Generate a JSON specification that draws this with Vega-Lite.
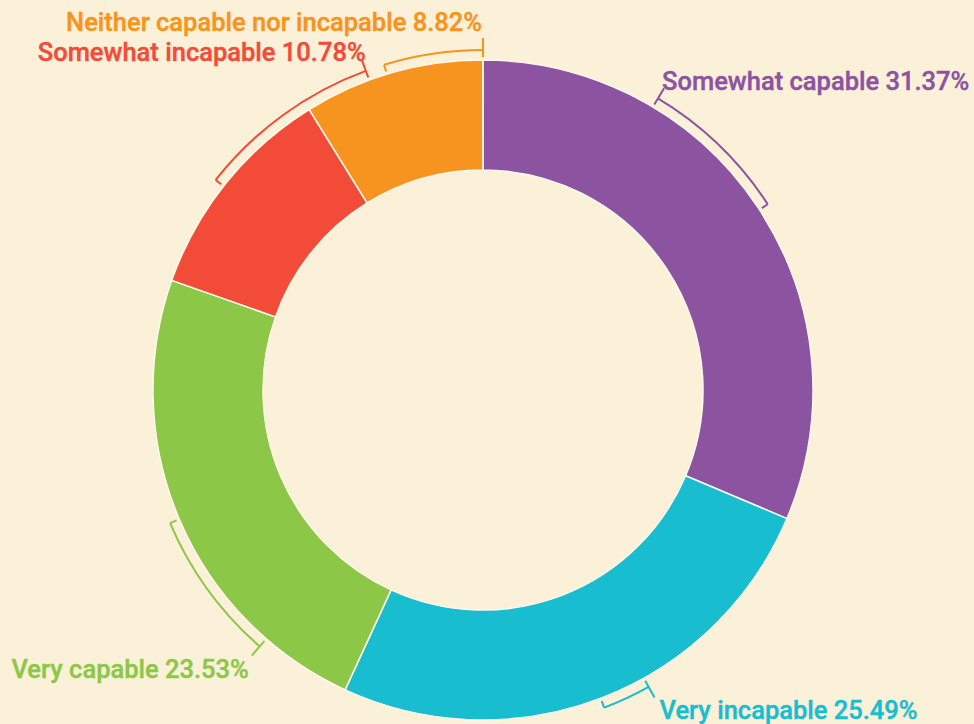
{
  "$schema": "https://vega.github.io/schema/vega-lite/v6.json",
  "width": 966,
  "height": 670,
  "autosize": "none",
  "padding": {"left": 0, "top": 55, "right": 8, "bottom": 0},
  "background": "#FBF0D8",
  "config": {"view": {"stroke": null}},
  "datasets": {
    "slices": [
      {"label": "Somewhat capable", "percent": 31.37, "rank": 1},
      {"label": "Very incapable", "percent": 25.49, "rank": 2},
      {"label": "Very capable", "percent": 23.53, "rank": 3},
      {"label": "Somewhat incapable", "percent": 10.78, "rank": 4},
      {"label": "Neither capable nor incapable", "percent": 8.82, "rank": 5}
    ],
    "brackets": [
      {"label": "Somewhat capable", "caption": "Somewhat capable 31.37%", "start": 8.6, "end": 15.8, "leader": 8.6},
      {"label": "Very incapable", "caption": "Very incapable 25.49%", "start": 41.9, "end": 44.2, "leader": 41.9},
      {"label": "Very capable", "caption": "Very capable 23.53%", "start": 61.4, "end": 68.6, "leader": 61.4},
      {"label": "Somewhat incapable", "caption": "Somewhat incapable 10.78%", "start": 85.6, "end": 94.4, "leader": 94.4},
      {"label": "Neither capable nor incapable", "caption": "Neither capable nor incapable 8.82%", "start": 95.3, "end": 100, "leader": 100}
    ]
  },
  "encoding": {
    "color": {
      "field": "label",
      "type": "nominal",
      "scale": {
        "domain": ["Somewhat capable", "Very incapable", "Very capable", "Somewhat incapable", "Neither capable nor incapable"],
        "range": ["#8C53A1", "#18BDD0", "#8CC747", "#F24B38", "#F7941F"]
      },
      "legend": null
    }
  },
  "layer": [
    {
      "data": {"name": "slices"},
      "mark": {"type": "arc", "radius": 330, "radius2": 220, "stroke": "#FFF8EC", "strokeWidth": 1.5},
      "encoding": {
        "theta": {"field": "percent", "type": "quantitative", "stack": true, "scale": {"domain": [0, 100]}},
        "order": {"field": "rank", "type": "quantitative"}
      }
    },
    {
      "data": {"name": "brackets"},
      "mark": {"type": "arc", "radius": 340, "radius2": 340, "filled": false, "strokeWidth": 2},
      "encoding": {
        "theta": {"field": "start", "type": "quantitative", "stack": null, "scale": {"domain": [0, 100]}},
        "theta2": {"field": "end"}
      }
    },
    {
      "data": {"name": "brackets"},
      "mark": {"type": "arc", "radius": 340, "radius2": 333, "filled": false, "strokeWidth": 2},
      "encoding": {
        "theta": {"field": "start", "type": "quantitative", "stack": null, "scale": {"domain": [0, 100]}},
        "theta2": {"field": "start"}
      }
    },
    {
      "data": {"name": "brackets"},
      "mark": {"type": "arc", "radius": 340, "radius2": 333, "filled": false, "strokeWidth": 2},
      "encoding": {
        "theta": {"field": "end", "type": "quantitative", "stack": null, "scale": {"domain": [0, 100]}},
        "theta2": {"field": "end"}
      }
    },
    {
      "data": {"name": "brackets"},
      "mark": {"type": "arc", "radius": 352, "radius2": 340, "filled": false, "strokeWidth": 2},
      "encoding": {
        "theta": {"field": "leader", "type": "quantitative", "stack": null, "scale": {"domain": [0, 100]}},
        "theta2": {"field": "leader"}
      }
    },
    {
      "data": {"name": "brackets"},
      "transform": [{"filter": "datum.label == 'Somewhat capable'"}],
      "mark": {"type": "text", "radius": 352, "align": "left", "baseline": "alphabetic", "dx": -2, "dy": 2, "font": "Roboto", "fontSize": 25.5, "fontWeight": 500, "strokeWidth": 0.4},
      "encoding": {
        "theta": {"field": "leader", "type": "quantitative", "stack": null, "scale": {"domain": [0, 100]}},
        "text": {"field": "caption"},
        "stroke": {"field": "label", "type": "nominal", "legend": null, "scale": {"domain": ["Somewhat capable", "Very incapable", "Very capable", "Somewhat incapable", "Neither capable nor incapable"], "range": ["#8C53A1", "#18BDD0", "#8CC747", "#F24B38", "#F7941F"]}}
      }
    },
    {
      "data": {"name": "brackets"},
      "transform": [{"filter": "datum.label == 'Very incapable'"}],
      "mark": {"type": "text", "radius": 352, "align": "left", "baseline": "alphabetic", "dx": 5, "dy": 22, "font": "Roboto", "fontSize": 25.5, "fontWeight": 500, "strokeWidth": 0.4},
      "encoding": {
        "theta": {"field": "leader", "type": "quantitative", "stack": null, "scale": {"domain": [0, 100]}},
        "text": {"field": "caption"},
        "stroke": {"field": "label", "type": "nominal", "legend": null, "scale": {"domain": ["Somewhat capable", "Very incapable", "Very capable", "Somewhat incapable", "Neither capable nor incapable"], "range": ["#8C53A1", "#18BDD0", "#8CC747", "#F24B38", "#F7941F"]}}
      }
    },
    {
      "data": {"name": "brackets"},
      "transform": [{"filter": "datum.label == 'Very capable'"}],
      "mark": {"type": "text", "radius": 352, "align": "right", "baseline": "alphabetic", "dx": -3, "dy": 23, "font": "Roboto", "fontSize": 25.5, "fontWeight": 500, "strokeWidth": 0.4},
      "encoding": {
        "theta": {"field": "leader", "type": "quantitative", "stack": null, "scale": {"domain": [0, 100]}},
        "text": {"field": "caption"},
        "stroke": {"field": "label", "type": "nominal", "legend": null, "scale": {"domain": ["Somewhat capable", "Very incapable", "Very capable", "Somewhat incapable", "Neither capable nor incapable"], "range": ["#8C53A1", "#18BDD0", "#8CC747", "#F24B38", "#F7941F"]}}
      }
    },
    {
      "data": {"name": "brackets"},
      "transform": [{"filter": "datum.label == 'Somewhat incapable'"}],
      "mark": {"type": "text", "radius": 352, "align": "right", "baseline": "alphabetic", "dx": 4, "dy": 1, "font": "Roboto", "fontSize": 25.5, "fontWeight": 500, "strokeWidth": 0.4},
      "encoding": {
        "theta": {"field": "leader", "type": "quantitative", "stack": null, "scale": {"domain": [0, 100]}},
        "text": {"field": "caption"},
        "stroke": {"field": "label", "type": "nominal", "legend": null, "scale": {"domain": ["Somewhat capable", "Very incapable", "Very capable", "Somewhat incapable", "Neither capable nor incapable"], "range": ["#8C53A1", "#18BDD0", "#8CC747", "#F24B38", "#F7941F"]}}
      }
    },
    {
      "data": {"name": "brackets"},
      "transform": [{"filter": "datum.label == 'Neither capable nor incapable'"}],
      "mark": {"type": "text", "radius": 352, "align": "right", "baseline": "alphabetic", "dx": -1, "dy": -7, "font": "Roboto", "fontSize": 25.5, "fontWeight": 500, "strokeWidth": 0.4},
      "encoding": {
        "theta": {"field": "leader", "type": "quantitative", "stack": null, "scale": {"domain": [0, 100]}},
        "text": {"field": "caption"},
        "stroke": {"field": "label", "type": "nominal", "legend": null, "scale": {"domain": ["Somewhat capable", "Very incapable", "Very capable", "Somewhat incapable", "Neither capable nor incapable"], "range": ["#8C53A1", "#18BDD0", "#8CC747", "#F24B38", "#F7941F"]}}
      }
    }
  ]
}
